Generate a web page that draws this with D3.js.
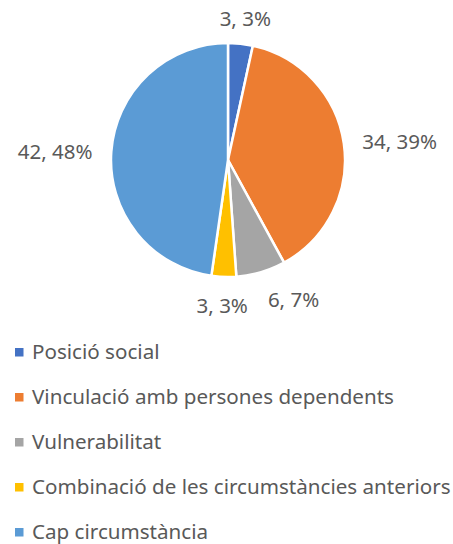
<!DOCTYPE html>
<html lang="ca">
<head>
<meta charset="UTF-8">
<title>Circumstàncies</title>
<script src="https://d3js.org/d3.v7.min.js"></script>
<style>
  body { margin: 0; background: #fff; }
  text { font-family: "Noto Sans", sans-serif; fill: #595959; }
</style>
</head>
<body>
<svg id="chart" width="453" height="544"></svg>
<script>
// data
const categories = ["Posició social", "Vinculació amb persones dependents", "Vulnerabilitat",
                    "Combinació de les circumstàncies anteriors", "Cap circumstància"];
const counts = [3, 34, 6, 3, 42];
const percents = [3, 39, 7, 3, 48];
const colors = ["#4472C4", "#ED7D31", "#A5A5A5", "#FFC000", "#5B9BD5"];

const svg = d3.select("#chart");
const cx = 228, cy = 160, radius = 117;

const data = categories.map((c, i) => ({ cat: c, n: counts[i], pct: percents[i], color: colors[i] }));

const pie = d3.pie().sort(null).value(d => d.n);
const arcs = pie(data);
const arc = d3.arc().innerRadius(0).outerRadius(radius);

const g = svg.append("g").attr("transform", `translate(${cx},${cy})`);

g.selectAll("path")
  .data(arcs)
  .enter()
  .append("path")
  .attr("d", arc)
  .attr("fill", d => d.data.color)
  .attr("stroke", "#fff")
  .attr("stroke-width", 2.5)
  .attr("stroke-linejoin", "round");

// data labels, placed just outside each slice
const labelR = 136;
const labels = g.selectAll("text.lbl")
  .data(arcs)
  .enter()
  .append("text")
  .attr("class", "lbl")
  .style("font-size", "20.5px")
  .attr("text-anchor", "middle")
  .text(d => `${d.data.n}, ${d.data.pct}%`);

const boxes = [];
labels.each(function (d) {
  const w = this.getComputedTextLength();
  const h = 16;
  const a = (d.startAngle + d.endAngle) / 2;
  const dx = Math.sin(a), dy = -Math.cos(a);
  boxes.push({ node: this, w: w, h: h, x: dx * labelR + dx * w / 2, y: dy * labelR + dy * h / 2 });
});

// push apart labels that sit too close together
for (let i = 0; i < boxes.length; i++) {
  for (let j = i + 1; j < boxes.length; j++) {
    const a = boxes[i], b = boxes[j];
    if (Math.abs(a.y - b.y) < 20) {
      const gap = Math.abs(a.x - b.x) - (a.w + b.w) / 2;
      if (gap < 20) {
        const shift = 20 - gap;
        if (a.x < b.x) b.x += shift; else a.x += shift;
      }
    }
  }
}

boxes.forEach(b => {
  d3.select(b.node)
    .attr("x", b.x)
    .attr("y", b.y + b.h / 2 + 1);
});

// legend
const legendTop = 359, rowGap = 45;
const legend = svg.append("g");
const rows = legend.selectAll("g")
  .data(data)
  .enter()
  .append("g")
  .attr("transform", (d, i) => `translate(0,${legendTop + i * rowGap})`);

rows.append("rect")
  .attr("x", 15)
  .attr("y", -11)
  .attr("width", 8.5)
  .attr("height", 8.5)
  .attr("fill", d => d.color);

rows.append("text")
  .attr("x", 32)
  .attr("y", 0)
  .style("font-size", "20.6px")
  .text(d => d.cat);
</script>
</body>
</html>
